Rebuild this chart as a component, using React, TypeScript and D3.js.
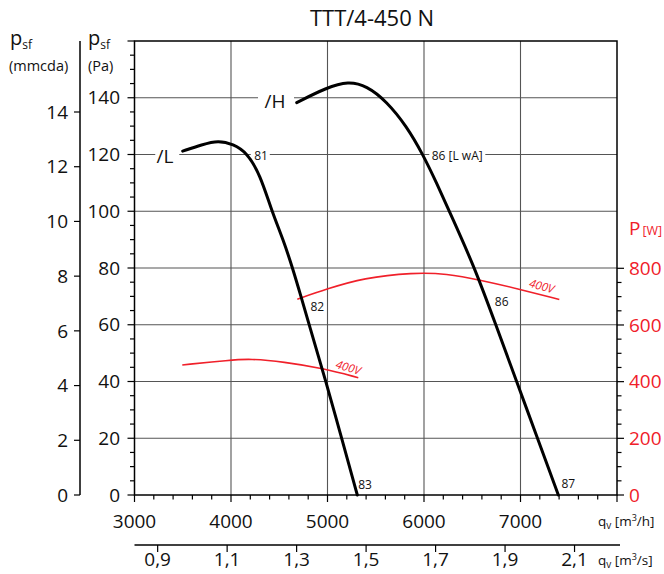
import React from "react";
import * as d3 from "d3";

// ---- data ----
const qTicksH = [3000, 4000, 5000, 6000, 7000];
const qTicksS = [0.9, 1.1, 1.3, 1.5, 1.7, 1.9, 2.1];
const paTicks = [0, 20, 40, 60, 80, 100, 120, 140];
const mmTicks = [0, 2, 4, 6, 8, 10, 12, 14];
const wTicks = [0, 200, 400, 600, 800];

const curveLQ = [3499, 3700, 3868, 4024, 4163, 4301, 4422, 4542, 4639, 4725, 4810, 4981, 5147, 5309];
const curveLPa = [121.2, 123.5, 125.0, 123.6, 120.7, 113.0, 100.1, 89.9, 79.9, 70.0, 60.0, 40.3, 20.0, 0];
const curveHQ = [4681, 4992, 5216, 5406, 5613, 5821, 5987, 6132, 6287, 6528, 6744, 6960, 7176, 7392];
const curveHPa = [138.3, 143.6, 145.8, 144.2, 138.7, 129.9, 120.1, 109.9, 98.1, 79.9, 60.0, 40.0, 20.0, 0];
const powerLQ = [3495, 3990, 4197, 4542, 4956, 5319];
const powerLW = [459, 476, 481, 470, 447, 414];
const powerHQ = [4687, 4992, 5371, 5889, 6235, 6580, 6995, 7402];
const powerHW = [691, 727, 766, 785, 781, 759, 726, 690];

const FONT = "'Open Sans', 'Noto Sans', sans-serif";
const RED = "#f0202a";

export default function App() {
  const W = 664, H = 574;
  const x = d3.scaleLinear().domain([3000, 8000]).range([134.5, 617]);
  const yPa = d3.scaleLinear().domain([0, 160]).range([495, 41]);
  const yW = d3.scaleLinear().domain([0, 800]).range([495, 268.3]);
  const yMm = d3.scaleLinear().domain([0, 14]).range([495, 112]);
  const xs = (v: number) => x(v * 3600);

  const lineK = d3.line<[number, number]>().curve(d3.curveBasis);
  const pathL = lineK(curveLQ.map((q, i) => [x(q), yPa(curveLPa[i])]))!;
  const pathH = lineK(curveHQ.map((q, i) => [x(q), yPa(curveHPa[i])]))!;
  const pathPL = lineK(powerLQ.map((q, i) => [x(q), yW(powerLW[i])]))!;
  const pathPH = lineK(powerHQ.map((q, i) => [x(q), yW(powerHW[i])]))!;

  const left = x(3000), right = x(8000), top = yPa(160), bot = yPa(0);
  const minorPa = d3.range(0, 161, 5);
  const minorW = d3.range(0, 801, 50);
  const minorQ = d3.range(3000, 8001, 200);
  const grid = "#555";
  const TICK = 19;

  const label = (t: string, qx: number, pa: number) => (
    <text x={x(qx)} y={yPa(pa)} dy="0.35em" fontSize={12} textAnchor="middle" fill="#111">{t}</text>
  );

  return (
    <svg width={W} height={H} style={{ position: "absolute", left: 0, top: 0, background: "#fff" }} fontFamily={FONT}>
      {/* grid */}
      {qTicksH.slice(1).map((q) => (
        <line key={"gv" + q} x1={x(q)} x2={x(q)} y1={top} y2={bot} stroke={grid} strokeWidth={1.1} />
      ))}
      {paTicks.slice(1).map((p) => (
        <line key={"gh" + p} x1={left} x2={right} y1={yPa(p)} y2={yPa(p)} stroke={grid} strokeWidth={1.1} />
      ))}
      {/* frame */}
      <rect x={left} y={top} width={right - left} height={bot - top} fill="none" stroke="#000" strokeWidth={1.5} />

      {/* Pa axis ticks */}
      {minorPa.map((p) => (
        <line key={"pt" + p} x1={p % 20 === 0 ? left - 7 : left - 4.5} x2={left} y1={yPa(p)} y2={yPa(p)} stroke="#000" strokeWidth={1.2} />
      ))}
      {paTicks.map((p) => (
        <text key={"pl" + p} x={120} y={yPa(p)} dy="0.35em" textAnchor="end" fontSize={TICK} fill="#111">{p}</text>
      ))}
      {/* mmcda axis */}
      <line x1={80} x2={80} y1={top} y2={bot} stroke="#000" strokeWidth={1.5} />
      {mmTicks.map((m) => (
        <g key={"mm" + m}>
          <line x1={74} x2={80} y1={yMm(m)} y2={yMm(m)} stroke="#000" strokeWidth={1.2} />
          <text x={68} y={yMm(m)} dy="0.35em" textAnchor="end" fontSize={TICK} fill="#111">{m}</text>
        </g>
      ))}
      <text x={10} y={45} fontSize={20} fill="#111">p<tspan fontSize={12} dy={4}>sf</tspan></text>
      <text x={9} y={71} fontSize={14.5} fill="#111">(mmcda)</text>
      <text x={88} y={45} fontSize={20} fill="#111">p<tspan fontSize={12} dy={4}>sf</tspan></text>
      <text x={88} y={71} fontSize={14.5} fill="#111">(Pa)</text>

      {/* W axis */}
      {minorW.map((w) => (
        <line key={"wt" + w} x1={right} x2={w % 200 === 0 ? right + 7 : right + 4.5} y1={yW(w)} y2={yW(w)} stroke="#000" strokeWidth={1.2} />
      ))}
      {wTicks.map((w) => (
        <text key={"wl" + w} x={629} y={yW(w)} dy="0.35em" fontSize={TICK} fill={RED}>{w}</text>
      ))}
      <text x={629} y={235} fontSize={TICK} fill={RED}>P<tspan fontSize={12.5} dx={2}>[W]</tspan></text>

      {/* q axis m3/h */}
      {minorQ.map((q) => (
        <line key={"qt" + q} x1={x(q)} x2={x(q)} y1={bot} y2={bot + (q % 1000 === 0 ? 7 : 4.5)} stroke="#000" strokeWidth={1.2} />
      ))}
      {qTicksH.map((q) => (
        <text key={"ql" + q} x={x(q)} y={521} dy="0.35em" textAnchor="middle" fontSize={TICK} fill="#111">{q}</text>
      ))}
      <text x={598} y={526} fontSize={13.5} fill="#111">q<tspan fontSize={10} dy={3}>v</tspan><tspan dy={-3}> [m</tspan><tspan fontSize={9} dy={-5}>3</tspan><tspan dy={5}>/h]</tspan></text>

      {/* q axis m3/s */}
      <line x1={left} x2={right + 3} y1={545} y2={545} stroke="#000" strokeWidth={1.5} />
      {qTicksS.map((v) => (
        <g key={"qs" + v}>
          <line x1={xs(v)} x2={xs(v)} y1={545} y2={552} stroke="#000" strokeWidth={1.2} />
          <text x={xs(v)} y={559} dy="0.35em" textAnchor="middle" fontSize={TICK} fill="#111">{v.toFixed(1).replace(".", ",")}</text>
        </g>
      ))}
      <text x={598} y={565} fontSize={13.5} fill="#111">q<tspan fontSize={10} dy={3}>v</tspan><tspan dy={-3}> [m</tspan><tspan fontSize={9} dy={-5}>3</tspan><tspan dy={5}>/s]</tspan></text>

      {/* title */}
      <text x={372} y={18} dy="0.35em" textAnchor="middle" fontSize={22} fill="#111">TTT/4-450 N</text>

      {/* white gaps behind labels */}
      <rect x={x(3215)} y={yPa(120) - 6} width={24} height={12} fill="#fff" />
      <rect x={x(4205)} y={yPa(120) - 6} width={19} height={12} fill="#fff" />
      <rect x={x(6055)} y={yPa(120) - 6} width={56} height={12} fill="#fff" />
      <rect x={x(4280)} y={yPa(140) - 6} width={36} height={12} fill="#fff" />

      {/* power curves */}
      <path d={pathPL} fill="none" stroke={RED} strokeWidth={1.6} />
      <path d={pathPH} fill="none" stroke={RED} strokeWidth={1.6} />
      {/* fan curves */}
      <path d={pathL} fill="none" stroke="#000" strokeWidth={3} strokeLinecap="round" />
      <path d={pathH} fill="none" stroke="#000" strokeWidth={3} strokeLinecap="round" />

      {/* labels */}
      <text x={x(3316)} y={yPa(119.2)} dy="0.35em" textAnchor="middle" fontSize={19} fill="#111">/L</text>
      <text x={x(4456)} y={yPa(138.9)} dy="0.35em" textAnchor="middle" fontSize={19} fill="#111">/H</text>
      {label("81", 4311, 119.5)}
      <text x={x(6080)} y={yPa(119.6)} dy="0.35em" fontSize={12} fill="#111">86 [L wA]</text>
      {label("82", 4894, 66.4)}
      {label("86", 6805, 68.2)}
      {label("83", 5389, 3.5)}
      {label("87", 7495, 4.1)}
      <text transform={`translate(${x(7220)},${yW(737)}) rotate(15)`} dy="0.35em" textAnchor="middle" fontSize={11.5} fontStyle="italic" fill={RED}>400V</text>
      <text transform={`translate(${x(5216)},${yW(450)}) rotate(17)`} dy="0.35em" textAnchor="middle" fontSize={11.5} fontStyle="italic" fill={RED}>400V</text>
    </svg>
  );
}
